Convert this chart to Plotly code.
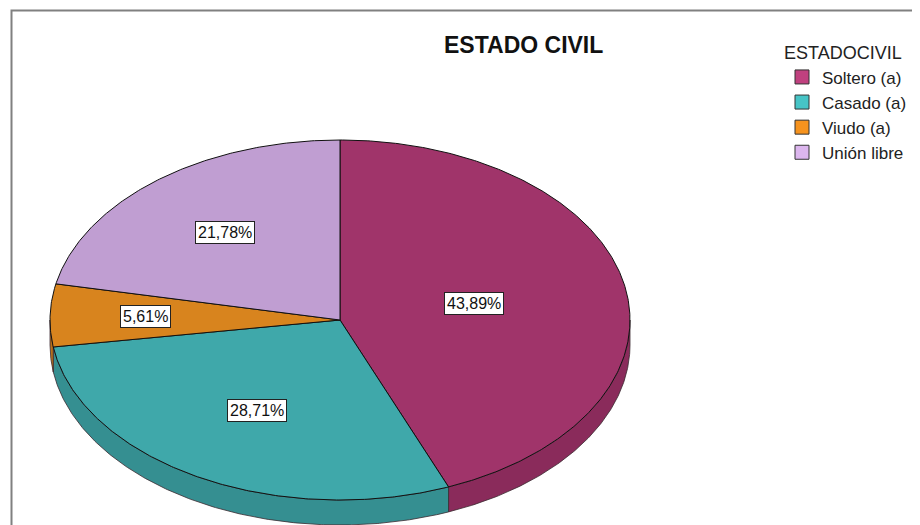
import numpy as np
import plotly.graph_objects as go

# ---- data ----
categories = ["Soltero (a)", "Casado (a)", "Viudo (a)", "Unión libre"]
percentages = [43.89, 28.71, 5.61, 21.78]
label_texts = ["43,89%", "28,71%", "5,61%", "21,78%"]
chart_title = "ESTADO CIVIL"
legend_title = "ESTADOCIVIL"

# ---- style ----
top_colors = ["#A0346A", "#3FA8AA", "#D8841E", "#C09ED2"]
side_colors = ["#8A2B5B", "#358F91", "#B8701A", "#A488B4"]
legend_colors = ["#C0417F", "#46C4C6", "#F6931E", "#DCB6EE"]
label_r = [0.47, 0.58, 0.67, 0.63]

W, H = 920, 525
OFF = 8                                   # page body margin
CX, CY, A, B = 340 - OFF, 320 - OFF, 290, 180   # ellipse centre / semi-axes (px)
DEPTH = 25 / B                            # extrusion depth in data units
FONT = "Liberation Sans, Arial"

fig = go.Figure()

total = sum(percentages)
ends = np.cumsum(percentages) / total * 360.0
starts = np.concatenate([[0.0], ends[:-1]])


def arc(t0, t1):
    n = max(3, int(abs(t1 - t0) * 2))
    t = np.radians(np.linspace(t0, t1, n))
    return np.sin(t), np.cos(t)

# sides (visible front half: 90..270 deg)
for i in range(len(categories)):
    s0, s1 = max(starts[i], 90.0), min(ends[i], 270.0)
    if s1 <= s0:
        continue
    xs, ys = arc(s0, s1)
    px = np.concatenate([xs, xs[::-1], xs[:1]])
    py = np.concatenate([ys, ys[::-1] - DEPTH, ys[:1]])
    fig.add_trace(go.Scatter(x=px, y=py, mode="lines", fill="toself",
                             fillcolor=side_colors[i],
                             line=dict(color="#3a2a30", width=0.8),
                             hoverinfo="skip", showlegend=False))

# top faces
for i in range(len(categories)):
    xs, ys = arc(starts[i], ends[i])
    px = np.concatenate([[0.0], xs, [0.0]])
    py = np.concatenate([[0.0], ys, [0.0]])
    fig.add_trace(go.Scatter(x=px, y=py, mode="lines", fill="toself",
                             fillcolor=top_colors[i],
                             line=dict(color="#111111", width=1),
                             name=categories[i],
                             text=label_texts[i], hoverinfo="text+name",
                             showlegend=False))

# legend entries
for i in range(len(categories)):
    fig.add_trace(go.Scatter(x=[None], y=[None], mode="markers",
                             marker=dict(symbol="square", size=14,
                                         color=legend_colors[i],
                                         line=dict(color="#333333", width=1)),
                             name=categories[i], showlegend=True))

# labels
for i in range(len(categories)):
    mid = np.radians((starts[i] + ends[i]) / 2)
    fig.add_annotation(x=label_r[i] * np.sin(mid), y=label_r[i] * np.cos(mid),
                       xref="x", yref="y", text=label_texts[i], showarrow=False,
                       font=dict(family=FONT, size=16, color="#111111"),
                       bgcolor="white", bordercolor="#222222", borderwidth=1, borderpad=2)

# title
fig.add_annotation(x=(523 - OFF) / W, y=1 - (45 - OFF) / H, xref="paper", yref="paper",
                   text="<b>" + chart_title + "</b>", showarrow=False,
                   font=dict(family=FONT, size=23, color="#111111"),
                   xanchor="center", yanchor="middle")

# frame
fig.add_shape(type="path", xref="paper", yref="paper",
              path=f"M {3.5/W} 0 L {3.5/W} {1-2.5/H} L 1 {1-2.5/H}",
              line=dict(color="#808080", width=2))

fig.update_layout(
    width=W, height=H,
    margin=dict(l=0, r=0, t=0, b=0),
    paper_bgcolor="white", plot_bgcolor="white",
    xaxis=dict(range=[(0 - CX) / A, (W - CX) / A], visible=False, fixedrange=True),
    yaxis=dict(range=[-(H - CY) / B, CY / B], visible=False, fixedrange=True),
    legend=dict(x=774 / W, y=1 - 28 / H, xanchor="left", yanchor="top",
                title=dict(text=legend_title, font=dict(size=18)),
                font=dict(family=FONT, size=17, color="#222222"),
                bgcolor="rgba(0,0,0,0)", tracegroupgap=0),
    font=dict(family=FONT),
    showlegend=True,
)

fig.write_html("out.html")
